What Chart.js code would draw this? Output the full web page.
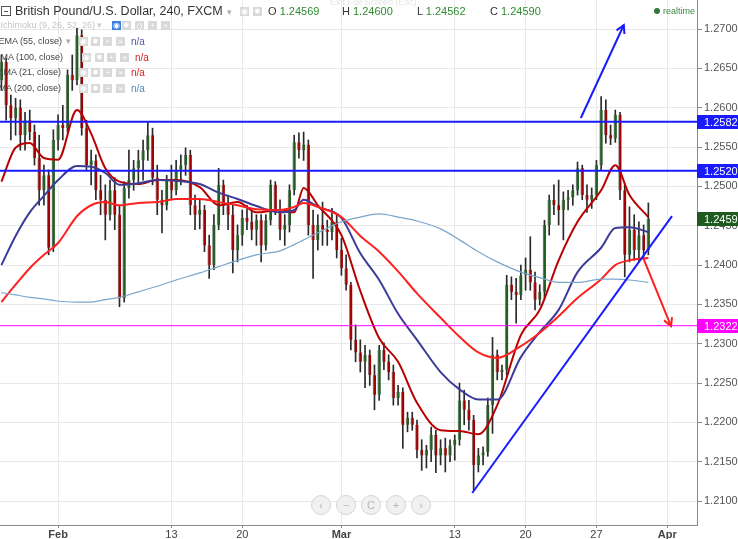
<!DOCTYPE html>
<html lang="en">
<head>
<meta charset="UTF-8">
<title>British Pound/U.S. Dollar, 240, FXCM</title>
<script src="https://cdn.jsdelivr.net/npm/chart.js"></script>
<style>
  body { margin: 0; background: #fff; overflow: hidden; font-family: "Liberation Sans", Arial, sans-serif; }
  #wrap { position: relative; width: 738px; height: 539px; overflow: hidden; }
  #wrap canvas { position: absolute; left: 0; top: 0; }
  .ov { position: absolute; white-space: nowrap; line-height: 1; }
  .title { left: 15px; top: 5px; font-size: 12.5px; color: #333; }
  .minus { left: 1px; top: 6px; width: 8px; height: 8px; border: 1px solid #555; }
  .minus:after { content: ""; position: absolute; left: 2px; top: 3.5px; width: 4px; height: 1px; background: #555; }
  .caret { font-size: 9px; color: #aaa; }
  .ico { position: absolute; width: 9px; height: 9px; background: #d9d9d9; color: #fff; font-size: 8px; line-height: 9px; text-align: center; }
  .ico.on { background: #3d7ddb; }
  .leg { font-size: 9px; color: #444; text-align: right; }
  .ohlc { top: 6px; font-size: 11px; color: #333; }
  .ohlc b { font-weight: normal; color: #2e8b2e; }
  .na { font-size: 10px; }
  .nav { position: absolute; width: 18px; height: 18px; border-radius: 50%; border: 1px solid #d3d3d3; background: rgba(238,238,238,0.85);
         color: #b5b5b5; font-size: 11px; line-height: 18px; text-align: center; }
  .rt { left: 663px; top: 7px; font-size: 9px; color: #3b8a46; }
  .dot { left: 654px; top: 8px; width: 6px; height: 6px; border-radius: 50%; background: #2f7a3a; }
  .ghost { left: 330px; top: -2px; font-size: 9px; color: #e4e4e4; }
</style>
</head>
<body>
<div id="wrap">
  <canvas id="chart" width="738" height="539"></canvas>

  <!-- header -->
  <div class="ov ghost">Exit Full Screen (Esc)</div>
  <div class="ov minus"></div>
  <div class="ov title">British Pound/U.S. Dollar, 240, FXCM</div>
  <div class="ov caret" style="left:227px;top:8px">&#9662;</div>
  <div class="ico" style="left:240px;top:7px">&#9673;</div>
  <div class="ico" style="left:253px;top:7px">&#10041;</div>
  <div class="ov ohlc" style="left:268px">O <b>1.24569</b></div>
  <div class="ov ohlc" style="left:342px">H <b>1.24600</b></div>
  <div class="ov ohlc" style="left:417px">L <b>1.24562</b></div>
  <div class="ov ohlc" style="left:490px">C <b>1.24590</b></div>
  <div class="ov dot"></div>
  <div class="ov rt">realtime</div>

  <!-- indicator legend -->
  <div class="ov leg" style="right:643px;top:21px;color:#c4c4c4">Ichimoku (9, 26, 52, 26)</div>
  <div class="ov caret" style="left:97px;top:21px;color:#ccc">&#9662;</div>
  <div class="ico on" style="left:112px;top:21px">&#9673;</div>
  <div class="ico" style="left:122px;top:21px">&#10041;</div>
  <div class="ico" style="left:135px;top:21px">()</div>
  <div class="ico" style="left:148px;top:21px">+</div>
  <div class="ico" style="left:161px;top:21px">&#215;</div>

  <div class="ov leg" style="right:676px;top:37px">EMA (55, close)</div>
  <div class="ov caret" style="left:66px;top:37px">&#9662;</div>
  <div class="ico" style="left:79px;top:37px">&#9673;</div>
  <div class="ico" style="left:91px;top:37px">&#10041;</div>
  <div class="ico" style="left:103px;top:37px">+</div>
  <div class="ico" style="left:116px;top:37px">&#215;</div>
  <div class="ov na" style="left:131px;top:37px;color:#5555b0">n/a</div>

  <div class="ov leg" style="right:675px;top:53px">EMA (100, close)</div>
  <div class="ico" style="left:82px;top:53px">&#9673;</div>
  <div class="ico" style="left:95px;top:53px">&#10041;</div>
  <div class="ico" style="left:107px;top:53px">+</div>
  <div class="ico" style="left:120px;top:53px">&#215;</div>
  <div class="ov na" style="left:135px;top:53px;color:#e02020">n/a</div>

  <div class="ov leg" style="right:677px;top:68px">EMA (21, close)</div>
  <div class="ico" style="left:79px;top:68px">&#9673;</div>
  <div class="ico" style="left:91px;top:68px">&#10041;</div>
  <div class="ico" style="left:103px;top:68px">+</div>
  <div class="ico" style="left:116px;top:68px">&#215;</div>
  <div class="ov na" style="left:131px;top:68px;color:#e02020">n/a</div>

  <div class="ov leg" style="right:677px;top:84px">MA (200, close)</div>
  <div class="ico" style="left:79px;top:84px">&#9673;</div>
  <div class="ico" style="left:91px;top:84px">&#10041;</div>
  <div class="ico" style="left:103px;top:84px">+</div>
  <div class="ico" style="left:116px;top:84px">&#215;</div>
  <div class="ov na" style="left:131px;top:84px;color:#4a8cc0">n/a</div>

  <!-- scroll / zoom buttons -->
  <div class="nav" style="left:311px;top:495px">&#8249;</div>
  <div class="nav" style="left:336px;top:495px">&#8722;</div>
  <div class="nav" style="left:361px;top:495px">C</div>
  <div class="nav" style="left:386px;top:495px">+</div>
  <div class="nav" style="left:411px;top:495px">&#8250;</div>
</div>

<script>
// bar index: 3 bars per trading day, 0 = 1 Feb 2017
const firstBar = -12;
const firstOpen = 1.2635;

const closes = [
  1.2658, 1.2603, 1.2587, 1.2600, 1.2565, 1.2584, 1.2569, 1.2536, 1.2495, 1.2514, 1.2422, 1.2559,
  1.2578, 1.2574, 1.2642, 1.2635, 1.2692, 1.2574, 1.2527, 1.2533, 1.2495, 1.2483, 1.2464, 1.2495,
  1.2464, 1.2358, 1.2498, 1.2508, 1.2523, 1.2533, 1.2546, 1.2565, 1.2511, 1.2483, 1.2476, 1.2508,
  1.2495, 1.2521, 1.2527, 1.2540, 1.2476, 1.2464, 1.2470, 1.2425, 1.2400, 1.2451, 1.2502, 1.2476,
  1.2464, 1.2419, 1.2438, 1.2460, 1.2455, 1.2445, 1.2457, 1.2425, 1.2457, 1.2502, 1.2470, 1.2445,
  1.2451, 1.2495, 1.2556, 1.2546, 1.2553, 1.2451, 1.2432, 1.2451, 1.2445, 1.2442, 1.2455, 1.2419,
  1.2396, 1.2375, 1.2305, 1.2289, 1.2277, 1.2286, 1.2260, 1.2235, 1.2292, 1.2277, 1.2264, 1.2231,
  1.2239, 1.2197, 1.2206, 1.2197, 1.2165, 1.2158, 1.2165, 1.2184, 1.2158, 1.2167, 1.2158, 1.2171,
  1.2178, 1.2228, 1.2216, 1.2203, 1.2146, 1.2158, 1.2162, 1.2222, 1.2286, 1.2264, 1.2267, 1.2375,
  1.2366, 1.2362, 1.2387, 1.2394, 1.2378, 1.2356, 1.2366, 1.2451, 1.2483, 1.2476, 1.2470, 1.2483,
  1.2486, 1.2495, 1.2523, 1.2489, 1.2483, 1.2489, 1.2527, 1.2597, 1.2565, 1.2561, 1.2591, 1.2495,
  1.2413, 1.2445, 1.2419, 1.2438, 1.2419, 1.2459
];
const highs = [
  1.2667, 1.2663, 1.2616, 1.2612, 1.2610, 1.2594, 1.2597, 1.2578, 1.2565, 1.2527, 1.2521, 1.2572,
  1.2591, 1.2603, 1.2648, 1.2667, 1.2701, 1.2699, 1.2584, 1.2546, 1.2540, 1.2514, 1.2502, 1.2508,
  1.2511, 1.2476, 1.2506, 1.2546, 1.2533, 1.2546, 1.2559, 1.2582, 1.2574, 1.2527, 1.2495, 1.2514,
  1.2527, 1.2533, 1.2540, 1.2549, 1.2546, 1.2489, 1.2483, 1.2476, 1.2438, 1.2464, 1.2523, 1.2508,
  1.2489, 1.2476, 1.2451, 1.2470, 1.2476, 1.2470, 1.2464, 1.2464, 1.2464, 1.2508, 1.2506, 1.2483,
  1.2464, 1.2502, 1.2565, 1.2568, 1.2569, 1.2559, 1.2470, 1.2464, 1.2480, 1.2457, 1.2472, 1.2464,
  1.2434, 1.2413, 1.2378, 1.2324, 1.2305, 1.2298, 1.2292, 1.2273, 1.2298, 1.2301, 1.2286, 1.2273,
  1.2247, 1.2244, 1.2213, 1.2213, 1.2203, 1.2178, 1.2171, 1.2194, 1.2190, 1.2178, 1.2180, 1.2178,
  1.2184, 1.2250, 1.2241, 1.2228, 1.2209, 1.2167, 1.2169, 1.2231, 1.2308, 1.2292, 1.2273, 1.2387,
  1.2385, 1.2383, 1.2400, 1.2409, 1.2436, 1.2391, 1.2375, 1.2457, 1.2489, 1.2502, 1.2508, 1.2493,
  1.2495, 1.2502, 1.2531, 1.2527, 1.2502, 1.2498, 1.2533, 1.2614, 1.2610, 1.2578, 1.2597, 1.2594,
  1.2502, 1.2474, 1.2464, 1.2455, 1.2451, 1.2479
];
const lows = [
  1.2622, 1.2584, 1.2559, 1.2565, 1.2546, 1.2546, 1.2559, 1.2527, 1.2476, 1.2476, 1.2413, 1.2417,
  1.2546, 1.2559, 1.2569, 1.2622, 1.2629, 1.2565, 1.2521, 1.2502, 1.2483, 1.2464, 1.2432, 1.2457,
  1.2445, 1.2347, 1.2353, 1.2485, 1.2495, 1.2504, 1.2508, 1.2533, 1.2502, 1.2464, 1.2441, 1.2470,
  1.2483, 1.2489, 1.2502, 1.2514, 1.2464, 1.2445, 1.2446, 1.2417, 1.2383, 1.2394, 1.2445, 1.2464,
  1.2445, 1.2390, 1.2404, 1.2425, 1.2445, 1.2432, 1.2425, 1.2404, 1.2419, 1.2451, 1.2464, 1.2432,
  1.2425, 1.2442, 1.2489, 1.2536, 1.2533, 1.2438, 1.2383, 1.2419, 1.2425, 1.2425, 1.2432, 1.2409,
  1.2387, 1.2368, 1.2292, 1.2277, 1.2264, 1.2244, 1.2247, 1.2216, 1.2228, 1.2267, 1.2254, 1.2222,
  1.2222, 1.2167, 1.2188, 1.2190, 1.2155, 1.2139, 1.2142, 1.2150, 1.2136, 1.2146, 1.2137, 1.2150,
  1.2152, 1.2171, 1.2197, 1.2190, 1.2114, 1.2137, 1.2146, 1.2157, 1.2186, 1.2254, 1.2254, 1.2260,
  1.2356, 1.2326, 1.2356, 1.2368, 1.2368, 1.2343, 1.2349, 1.2358, 1.2438, 1.2464, 1.2451, 1.2432,
  1.2470, 1.2476, 1.2489, 1.2483, 1.2467, 1.2472, 1.2483, 1.2521, 1.2555, 1.2553, 1.2556, 1.2483,
  1.2385, 1.2404, 1.2406, 1.2404, 1.2409, 1.2413
];

// moving averages, read at these bar positions
const maX = [-12, -9, -6, -3, 0, 4, 7, 10, 13, 17, 21, 25, 30, 34, 38, 42, 47, 50, 52, 55,
             60, 64, 68, 72, 76, 81, 85, 89, 93, 98, 102, 106, 110, 115, 118, 121, 125];
const ema21 = [1.2506, 1.2549, 1.2555, 1.2536, 1.2534, 1.2597, 1.2567, 1.2523, 1.2506, 1.2503,
               1.2508, 1.2508, 1.2499, 1.2476, 1.2480, 1.2467, 1.2470, 1.2467, 1.2498, 1.2476,
               1.2438, 1.2367, 1.2307, 1.2277, 1.2225, 1.2190, 1.2189, 1.2185, 1.2222, 1.2311,
               1.2343, 1.2406, 1.2455, 1.2495, 1.2527, 1.2489, 1.2461];
const ema55 = [1.2400, 1.2437, 1.2467, 1.2488, 1.2508, 1.2526, 1.2525, 1.2517, 1.2502, 1.2504,
               1.2508, 1.2507, 1.2503, 1.2492, 1.2484, 1.2475, 1.2467, 1.2470, 1.2483, 1.2474,
               1.2460, 1.2415, 1.2381, 1.2338, 1.2305, 1.2264, 1.2242, 1.2229, 1.2229, 1.2283,
               1.2315, 1.2343, 1.2391, 1.2422, 1.2447, 1.2448, 1.2442];
const ema100 = [1.2353, 1.2375, 1.2396, 1.2413, 1.2428, 1.2462, 1.2476, 1.2480, 1.2476, 1.2479,
                1.2480, 1.2484, 1.2484, 1.2480, 1.2476, 1.2471, 1.2470, 1.2474, 1.2479, 1.2474,
                1.2461, 1.2437, 1.2417, 1.2392, 1.2364, 1.2333, 1.2309, 1.2289, 1.2282, 1.2297,
                1.2314, 1.2335, 1.2358, 1.2382, 1.2400, 1.2406, 1.2409];
const ma200 = [1.2365, 1.2362, 1.2359, 1.2357, 1.2354, 1.2353, 1.2353, 1.2356, 1.2359, 1.2366,
               1.2373, 1.2381, 1.2390, 1.2398, 1.2406, 1.2413, 1.2418, 1.2426, 1.2432, 1.2441,
               1.2455, 1.2461, 1.2465, 1.2461, 1.2456, 1.2446, 1.2432, 1.2417, 1.2404, 1.2391,
               1.2384, 1.2378, 1.2378, 1.2382, 1.2382, 1.2381, 1.2378];

// time axis labels (bar position of each date)
const tickPos = [0, 24, 39, 60, 84, 99, 114, 129];
const tickLabels = ['Feb', '13', '20', 'Mar', '13', '20', '27', 'Apr'];

// drawn levels and price tags
const levels = [1.25821, 1.25200];
const levelLow = 1.23229;
const lastPrice = 1.24590;

// trend line and arrows: [bar, price] end points
const trendX = [87.7, 130.0], trendY = [1.21103, 1.24623];
const upArrowX = [110.7, 119.8], upArrowY = [1.25869, 1.27051];
const downArrowX = [123.9, 129.8], downArrowY = [1.24090, 1.23225];

const xMin = -12.3, xMax = 135.3;
const yMin = 1.20696, yMax = 1.27369;

const BLUE = '#1a1aff';
const opens = closes.map((c, i) => i === 0 ? firstOpen : closes[i - 1]);
const barX = closes.map((c, i) => firstBar + i);

const pts = (xs, ys) => xs.map((x, i) => ({ x, y: ys[i] }));
const maLine = (data, color, width) => ({
  type: 'line', data: pts(maX, data), borderColor: color, borderWidth: width,
  pointRadius: 0, cubicInterpolationMode: 'monotone', order: 5
});
const segment = (xs, ys, color, width, order) => ({
  type: 'line', data: pts(xs, ys), borderColor: color, borderWidth: width, pointRadius: 0, order
});

const overlay = {
  id: 'overlay',
  afterDraw(chart) {
    const { ctx, scales: { x, y } } = chart;
    // arrow heads
    [[upArrowX, upArrowY, BLUE], [downArrowX, downArrowY, '#ff1f1f']].forEach(([ax, ay, col]) => {
      const x1 = x.getPixelForValue(ax[0]), y1 = y.getPixelForValue(ay[0]);
      const x2 = x.getPixelForValue(ax[1]), y2 = y.getPixelForValue(ay[1]);
      const a = Math.atan2(y2 - y1, x2 - x1);
      ctx.save();
      ctx.strokeStyle = col;
      ctx.lineWidth = 2;
      ctx.beginPath();
      ctx.moveTo(x2 - 9 * Math.cos(a - 0.5), y2 - 9 * Math.sin(a - 0.5));
      ctx.lineTo(x2, y2);
      ctx.lineTo(x2 - 9 * Math.cos(a + 0.5), y2 - 9 * Math.sin(a + 0.5));
      ctx.stroke();
      ctx.restore();
    });
    // price tags on the axis
    const tags = [[levels[0], BLUE], [levels[1], BLUE], [lastPrice, '#1f5a1f'], [levelLow, '#ff00ff']];
    ctx.save();
    ctx.font = '11px "Liberation Sans", Arial, sans-serif';
    ctx.textBaseline = 'middle';
    tags.forEach(([v, col]) => {
      const py = Math.round(y.getPixelForValue(v));
      ctx.fillStyle = col;
      ctx.fillRect(y.left, py - 7, chart.width - y.left, 14);
      ctx.fillStyle = '#fff';
      ctx.fillText(v.toFixed(5), y.left + 7, py + 1);
    });
    ctx.restore();
  }
};

new Chart(document.getElementById('chart'), {
  type: 'bar',
  data: {
    datasets: [
      {
        type: 'bar', data: barX.map((x, i) => ({ x, y: [lows[i], highs[i]] })),
        backgroundColor: '#2a2a2a', barThickness: 1, grouped: false, order: 10
      },
      {
        type: 'bar', data: barX.map((x, i) => ({ x, y: [opens[i], closes[i]] })),
        backgroundColor: closes.map((c, i) => c >= opens[i] ? '#215f21' : '#a30000'),
        borderColor: '#8a8a8a', borderWidth: { left: 1, right: 0, top: 0, bottom: 0 },
        barThickness: 3, minBarLength: 1, grouped: false, order: 9
      },
      maLine(ma200, '#7ba6cb', 1.2),
      maLine(ema100, '#ff2020', 2),
      maLine(ema55, '#3c3c98', 2),
      maLine(ema21, '#b80000', 2),
      segment([xMin, xMax], [levels[0], levels[0]], BLUE, 2, 3),
      segment([xMin, xMax], [levels[1], levels[1]], BLUE, 2, 3),
      segment([xMin, xMax], [levelLow, levelLow], '#ff00ff', 1, 3),
      segment(trendX, trendY, BLUE, 2, 2),
      segment(upArrowX, upArrowY, BLUE, 2, 2),
      segment(downArrowX, downArrowY, '#ff1f1f', 2, 2)
    ]
  },
  options: {
    responsive: false,
    animation: false,
    events: [],
    layout: { padding: 0 },
    plugins: { legend: { display: false }, tooltip: { enabled: false } },
    scales: {
      x: {
        type: 'linear', min: xMin, max: xMax, offset: false,
        afterBuildTicks: s => { s.ticks = tickPos.map(v => ({ value: v })); },
        afterFit: s => { s.height = 14; s.paddingLeft = 0; s.paddingRight = 0; },
        ticks: {
          autoSkip: false, maxRotation: 0, padding: 0, color: '#444',
          font: c => ({ size: 11, family: '"Liberation Sans", Arial, sans-serif',
                        weight: [0, 3, 7].includes(c.index) ? 'bold' : 'normal' }),
          callback: v => tickLabels[tickPos.indexOf(v)]
        },
        grid: { color: '#e8e8e8', tickLength: 3, tickColor: '#888', offset: false },
        border: { color: '#8a8a8a' }
      },
      y: {
        position: 'right', min: yMin, max: yMax,
        afterFit: s => { s.width = 41; s.paddingTop = 0; s.paddingBottom = 0; },
        ticks: {
          stepSize: 0.005, includeBounds: false, padding: 2, color: '#555',
          font: { size: 11, family: '"Liberation Sans", Arial, sans-serif' },
          callback: v => v.toFixed(5)
        },
        grid: { color: '#e8e8e8', tickLength: 5, tickColor: '#888' },
        border: { color: '#8a8a8a' }
      }
    }
  },
  plugins: [overlay]
});
</script>
</body>
</html>
